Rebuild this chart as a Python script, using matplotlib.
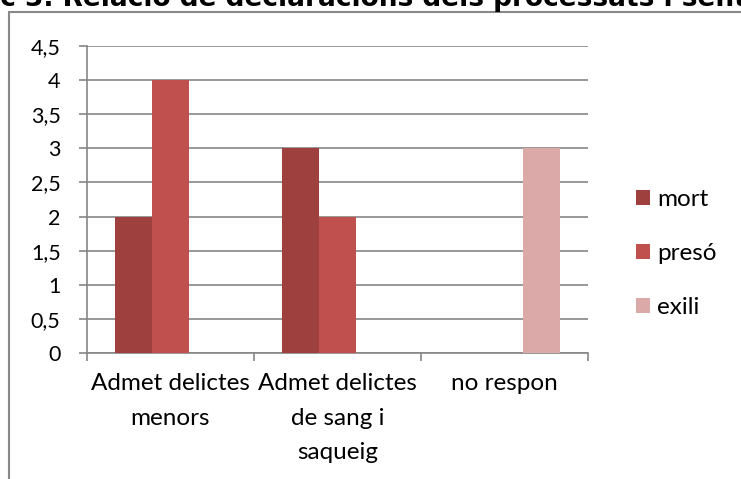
import matplotlib
matplotlib.use("Agg")
import matplotlib.pyplot as plt
import numpy as np
from matplotlib.patches import Rectangle

categories = ["Admet delictes\nmenors", "Admet delictes\nde sang i\nsaqueig", "no respon"]
series_names = ["mort", "presó", "exili"]
mort = [2, 3, 0]
preso = [4, 2, 0]
exili = [0, 0, 3]
y_ticks = [0, 0.5, 1, 1.5, 2, 2.5, 3, 3.5, 4, 4.5]
y_tick_labels = ["0", "0,5", "1", "1,5", "2", "2,5", "3", "3,5", "4", "4,5"]
title = "Gràfic 3. Relació de declaracions dels processats i sentència"

colors = ["#9E413E", "#C0504D", "#DBA9A8"]
grid_col = "#868686"
W, H = 741, 479
plt.rcParams['font.family'] = ['Lato', 'DejaVu Sans']

fig = plt.figure(figsize=(W/100, H/100), dpi=100)

# outer chart frame
fig.patches.append(Rectangle((9/W, -0.1), 1.2, 1 - 12/H + 0.1, transform=fig.transFigure,
                             fill=False, edgecolor="#888888", lw=1.5))

ax = fig.add_axes([87/W, 1 - 353/H, 501/W, 307/H])
x = np.arange(len(categories))
bw = 1/4.5
for i, (vals, c) in enumerate(zip([mort, preso, exili], colors)):
    ax.bar(x + (i-1)*bw, vals, width=bw, color=c, label=series_names[i], zorder=3)

ax.set_xlim(-0.5, len(categories) - 0.5)
ax.set_ylim(0, 4.5)
ax.set_yticks(y_ticks)
ax.set_yticklabels(y_tick_labels)
ax.set_xticks(x)
ax.set_xticklabels(categories)
ax.set_xticks(np.arange(len(categories)+1) - 0.5, minor=True)
ax.tick_params(axis='x', which='major', length=0, pad=14.5, labelsize=17.5)
ax.tick_params(axis='x', which='minor', length=6, width=1.2, color=grid_col, direction='out')
ax.tick_params(axis='y', length=6, width=1.2, color=grid_col, labelsize=15.5, pad=13)
for t in ax.get_xticklabels():
    t.set_linespacing(1.79)
ax.grid(axis='y', color=grid_col, lw=1.2, zorder=0)
for s in ['top', 'right']:
    ax.spines[s].set_visible(False)
for s in ['left', 'bottom']:
    ax.spines[s].set_color(grid_col)
    ax.spines[s].set_linewidth(1.2)
ax.set_axisbelow(True)

ax.legend(loc='center left', bbox_to_anchor=(636/W, 1 - 253.5/H), bbox_transform=fig.transFigure,
          frameon=False, fontsize=17.5, handlelength=0.58, handleheight=0.58,
          handletextpad=0.3, labelspacing=1.37, borderpad=0, borderaxespad=0)

# title, cut off at the top of the image
fig.canvas.draw()
r = fig.canvas.get_renderer()
tmp = fig.text(0, 0, "Gràfi", fontsize=19, fontweight='bold', family='DejaVu Sans')
wpx = tmp.get_window_extent(renderer=r).width
tmp.remove()
fig.text(-wpx/W, 1 - 6/H, title, fontsize=19, fontweight='bold', family='DejaVu Sans',
         ha='left', va='baseline')

fig.savefig("out.png", dpi=100)
